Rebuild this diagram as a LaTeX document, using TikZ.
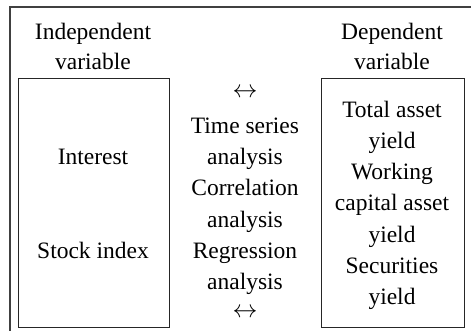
\documentclass[tikz,border=0pt]{standalone}
\usepackage{fontspec}
\setmainfont{Liberation Serif}
\begin{document}
\begin{tikzpicture}[x=1pt,y=-1pt,
  txt/.style={align=center,inner sep=0pt,font=\fontsize{23.5}{31}\selectfont},
  frame/.style={draw=black!75,line width=1.2pt},
  boxstyle/.style={draw=black!85,line width=0.9pt,rectangle,inner sep=0pt}]
\useasboundingbox (0,0) rectangle (471,331);
% outer frame (partially visible)
\coordinate (fa) at (10,331);
\coordinate (fb) at (10,7);
\coordinate (fc) at (471,7);
\draw[frame] (fa) -- (fb) -- (fc);
% boxes
\node[boxstyle,minimum width=151pt,minimum height=249pt] (lbox) at (93.5,202.5) {};
\node[boxstyle,minimum width=143pt,minimum height=249pt] (rbox) at (392.5,202.5) {};
% headings
\node[txt,anchor=base] (lh1) at (93,40) {Independent};
\node[txt,anchor=base] (lh2) at (93,70) {variable};
\node[txt,anchor=base] (rh1) at (392,40) {Dependent};
\node[txt,anchor=base] (rh2) at (392,70) {variable};
% left content
\node[txt,anchor=base] (int) at (93,165) {Interest};
\node[txt,anchor=base] (stk) at (93,258) {Stock index};
% middle column
\node[txt,anchor=base] (a1) at (245,98) {$\leftrightarrow$};
\node[txt,anchor=base] (m1) at (245,134) {Time series};
\node[txt,anchor=base] (m2) at (245,165) {analysis};
\node[txt,anchor=base] (m3) at (245,196) {Correlation};
\node[txt,anchor=base] (m4) at (245,227) {analysis};
\node[txt,anchor=base] (m5) at (245,258) {Regression};
\node[txt,anchor=base] (m6) at (245,289) {analysis};
\node[txt,anchor=base] (a2) at (245,317) {$\leftrightarrow$};
% right content
\node[txt,anchor=base] (r1) at (392,118) {Total asset};
\node[txt,anchor=base] (r2) at (392,149) {yield};
\node[txt,anchor=base] (r3) at (392,180) {Working};
\node[txt,anchor=base] (r4) at (392,211) {capital asset};
\node[txt,anchor=base] (r5) at (392,242) {yield};
\node[txt,anchor=base] (r6) at (392,273) {Securities};
\node[txt,anchor=base] (r7) at (392,304) {yield};
\end{tikzpicture}
\end{document}
